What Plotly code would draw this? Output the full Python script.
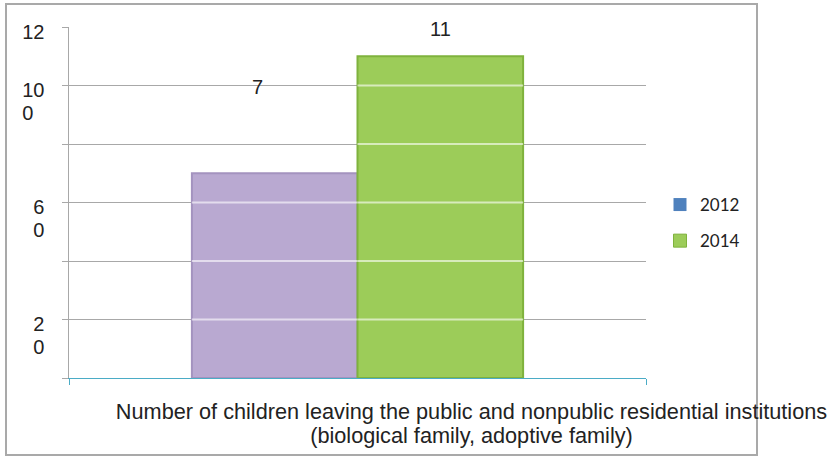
import plotly.graph_objects as go

# --- data -------------------------------------------------------------
category_lines = ["Number of children leaving the public and nonpublic residential institutions",
                  "(biological family, adoptive family)"]
years = ["2012", "2014"]
values_2012 = [7]
values_2014 = [11]
value_labels = ["7", "11"]

tick_vals = [0, 2, 4, 6, 8, 10, 12]
tick_lines = [[], ["2", "0"], [], ["6", "0"], [], ["10", "0&nbsp;&nbsp;"], ["12", "&nbsp;"]]


def tight_lines(lines, size):
    """Join lines with <br>, each wrapped in a span of the given font size."""
    return "<br>".join(f'<span style="font-size:{size}px">{ln}</span>' for ln in lines)


# labels: large glyphs on a tighter line pitch
category = [tight_lines(category_lines, 21.7)]
tick_text = [tight_lines(t, 20) if t else "" for t in tick_lines]

# --- layout constants (pixels) ----------------------------------------
W, H = 837, 457
M_L, M_R, M_T, M_B = 69, 191, 27, 79
PW, PH = W - M_L - M_R, H - M_T - M_B
BARGAP = 0.426


def px_x(p):
    return (p - M_L) / PW


def px_y(p):
    return (H - M_B - p) / PH


purple = "#b9a9d1"
purple_edge = "#a493bf"
green = "#9ccc59"
green_edge = "#7fb23d"
legend_blue = "#4f81bd"
grid = "#a8a8a8"
teal = "#4bacc6"
txt = "#222222"

fig = go.Figure()

fig.add_trace(go.Bar(
    x=category, y=values_2012, name=years[0],
    marker=dict(color=purple, line=dict(color=purple_edge, width=2)),
    showlegend=False,
))
fig.add_trace(go.Bar(
    x=category, y=values_2014, name=years[1],
    marker=dict(color=green, line=dict(color=green_edge, width=2)),
    showlegend=False,
))

# legend entries (square swatches)
fig.add_trace(go.Scatter(x=[None], y=[None], name=years[0], legendgroup="a", mode="markers",
                         marker=dict(symbol="square", size=13, color=legend_blue)))
fig.add_trace(go.Scatter(x=[None], y=[None], name=years[1], legendgroup="b", mode="markers",
                         marker=dict(symbol="square", size=13, color=green,
                                     line=dict(color=green_edge, width=1))))

# value labels
label_xshift = [-100, 83]
label_yshift = [86, 27]
for v, lab, dx, dy in zip(values_2012 + values_2014, value_labels, label_xshift, label_yshift):
    fig.add_annotation(x=category[0], y=v, text=lab, showarrow=False,
                       xshift=dx, yshift=dy,
                       font=dict(family="Liberation Sans, Arial", size=20, color=txt))

shapes = []
# pale sheen where the gridlines pass through each bar
half = (1 - BARGAP) / 2
bar_spans = [(-half, 0.0), (0.0, half)]
for (xa, xb), val in zip(bar_spans, values_2012 + values_2014):
    for gv in tick_vals[1:-1]:
        if gv < val:
            shapes.append(dict(type="line", xref="x", yref="y", x0=xa, x1=xb, y0=gv, y1=gv,
                               line=dict(color="rgba(255,255,255,0.6)", width=2),
                               layer="above"))
# chart frame
shapes.append(dict(type="rect", xref="paper", yref="paper",
                   x0=px_x(6), x1=px_x(757), y0=px_y(455), y1=px_y(4),
                   line=dict(color="#a9a9a9", width=2), layer="below"))

fig.update_layout(
    width=W, height=H,
    margin=dict(l=M_L, r=M_R, t=M_T, b=M_B, autoexpand=False),
    paper_bgcolor="white", plot_bgcolor="white",
    barmode="group", bargap=BARGAP, bargroupgap=0,
    shapes=shapes,
    showlegend=True,
    legend=dict(x=px_x(660), y=px_y(187), xanchor="left", yanchor="top",
                font=dict(family="Lato", size=17, color=txt),
                tracegroupgap=11, bgcolor="rgba(0,0,0,0)"),
    font=dict(family="Liberation Sans, Arial", color=txt),
)

fig.update_xaxes(
    type="category", showgrid=False, automargin=False, tickangle=0,
    showline=True, linecolor=teal, linewidth=1,
    ticks="outside", tickson="boundaries", tickcolor=teal, ticklen=6, tickwidth=1,
    tickfont=dict(family="Liberation Sans, Arial", size=18.5, color=txt),
    ticklabelshift=114, ticklabelstandoff=18,
)
fig.update_yaxes(
    range=[0, 12], tickmode="array", tickvals=tick_vals, ticktext=tick_text,
    automargin=False,
    showgrid=True, gridcolor=grid, gridwidth=1,
    showline=True, linecolor=grid, linewidth=1,
    ticks="outside", ticklen=6, tickcolor=grid,
    tickfont=dict(family="Liberation Sans, Arial", size=17.7, color=txt),
    ticklabelstandoff=14, ticklabelshift=17,
    zeroline=False,
)

fig.write_html("out.html")
